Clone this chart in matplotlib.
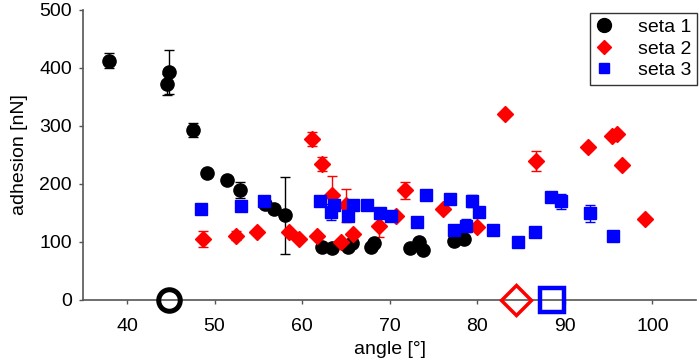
import matplotlib
matplotlib.use("Agg")
import matplotlib.pyplot as plt
from matplotlib.lines import Line2D

plt.rcParams['font.family'] = ['Liberation Sans', 'DejaVu Sans']
plt.rcParams['font.size'] = 14

# seta 1 (black circles)
s1_angle = [37.9, 44.75, 44.6, 47.5, 49.1, 51.4, 52.95, 55.8, 56.8, 58.0,
            62.3, 63.4, 65.2, 65.7, 67.9, 68.2, 72.3, 73.3, 73.75, 77.3, 78.5]
s1_adh = [412, 393, 372, 293, 218, 207, 190, 165, 157, 146,
          92, 90, 91, 98, 92, 98, 89, 99, 86, 101, 105]
s1_err = [13, 38, 18, 12, 5, 4, 14, 4, 4, 66,
          3, 3, 3, 3, 3, 3, 3, 3, 3, 3, 3]

# seta 2 (red diamonds)
s2_angle = [48.7, 52.4, 54.8, 58.5, 59.7, 61.1, 61.7, 62.3, 63.4, 64.4, 65.0,
            65.8, 68.8, 70.7, 71.8, 76.1, 80.0, 83.2, 86.7, 92.6, 95.4, 95.95,
            96.5, 99.1]
s2_adh = [105, 111, 117, 117, 105, 277, 110, 235, 181, 99, 163,
          114, 128, 145, 189, 157, 126, 321, 239, 263, 283, 286,
          233, 139]
s2_err = [13, 7, 3, 3, 3, 12, 3, 12, 33, 3, 28,
          3, 19, 3, 15, 3, 3, 3, 17, 3, 3, 3,
          3, 3]

# seta 3 (blue squares)
s3_angle = [48.45, 53.0, 55.7, 62.0, 63.6, 63.35, 65.2, 65.8, 67.4, 68.95,
            70.1, 73.1, 74.2, 76.9, 79.35, 80.2, 81.8, 77.3, 78.7, 84.6,
            86.6, 88.45, 89.6, 92.9, 95.5]
s3_adh = [157, 162, 171, 171, 164, 152, 144, 163, 164, 150,
          145, 135, 181, 174, 170, 151, 121, 121, 128, 99,
          117, 177, 170, 149, 111]
s3_err = [3, 3, 5, 8, 3, 14, 3, 3, 3, 3,
          3, 3, 3, 3, 10, 3, 3, 3, 11, 3,
          3, 6, 13, 14, 3]

# zero-adhesion markers
zero_angle = [44.75, 84.45, 88.5]

fig = plt.figure(figsize=(6.99, 3.64), dpi=100)
ax = fig.add_axes([0.119, 0.176, 0.877, 0.797])

ax.errorbar(s1_angle, s1_adh, yerr=s1_err, fmt='o', color='black', ms=9.5,
            ecolor='black', elinewidth=1, capsize=3.5, capthick=1, zorder=3)
ax.errorbar(s2_angle, s2_adh, yerr=s2_err, fmt='D', color='red', ms=8.5,
            ecolor='red', elinewidth=1, capsize=3.5, capthick=1, zorder=3)
ax.errorbar(s3_angle, s3_adh, yerr=s3_err, fmt='s', color='blue', ms=8.5,
            ecolor='blue', elinewidth=1, capsize=3.5, capthick=1, zorder=3)

ax.plot(zero_angle[0], 0, 'o', ms=15.5, mfc='none', mec='black', mew=3.6, clip_on=False, zorder=5)
ax.plot(zero_angle[1], 0, 'D', ms=15, mfc='none', mec='red', mew=2.5, clip_on=False, zorder=5)
ax.plot(zero_angle[2], 0, 's', ms=17, mfc='none', mec='blue', mew=3.2, clip_on=False, zorder=5)

ax.set_xlim(35, 105)
ax.set_ylim(0, 500)
ax.set_xticks([40, 50, 60, 70, 80, 90, 100])
ax.set_yticks([0, 100, 200, 300, 400, 500])
ax.spines['top'].set_visible(False)
ax.spines['right'].set_visible(False)
for s in ['left', 'bottom']:
    ax.spines[s].set_color('#555555')
    ax.spines[s].set_linewidth(1.2)
ax.tick_params(axis='both', colors='#555555', labelcolor='black', width=1)
ax.tick_params(axis='x', length=3, pad=10)
ax.tick_params(axis='y', length=3, pad=5)

ax.set_xlabel('angle [°]', labelpad=4)
ax.set_ylabel('adhesion [nN]', labelpad=8)

handles = [Line2D([], [], ls='none', marker='o', color='black', ms=10),
           Line2D([], [], ls='none', marker='D', color='red', ms=7.5),
           Line2D([], [], ls='none', marker='s', color='blue', ms=6.5)]
leg = ax.legend(handles, ['seta 1', 'seta 2', 'seta 3'], loc='upper right',
                bbox_to_anchor=(1.002, 0.99), borderaxespad=0, frameon=True, fancybox=False,
                edgecolor='black', handletextpad=1.3, borderpad=0.3, labelspacing=0.2,
                handlelength=0.9, fontsize=14)
leg.get_frame().set_linewidth(1)

fig.savefig('out.png', dpi=100)
